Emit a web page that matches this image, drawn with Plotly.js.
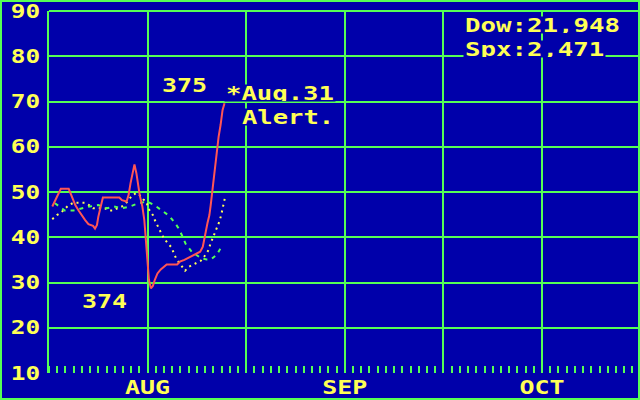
<!DOCTYPE html>
<html>
<head>
<meta charset="utf-8">
<script src="https://cdn.plot.ly/plotly-3.0.1.min.js"></script>
<style>
  html, body { margin: 0; padding: 0; background: #0000aa; }
  #wrap { position: relative; width: 640px; height: 400px; background: #0000aa; overflow: hidden; }
  #chart { position: absolute; left: 0; top: 0; width: 640px; height: 400px; }
  #frame { position: absolute; left: 0; top: 0; width: 640px; height: 400px; box-sizing: border-box; border: 2px solid #55ff55; pointer-events: none; }
</style>
</head>
<body>
<div id="wrap"><div id="chart"></div><div id="frame"></div></div>
<script>
// ---- data (x = trading-day position, 15 units per grid column) ----
const redX = [0.5,1.2,1.8,3.0,3.3,3.6,4.0,4.5,5.0,5.5,6.0,6.7,7.0,7.3,7.5,7.8,8.2,10.7,11.1,11.8,12.1,12.4,12.7,13.0,13.3,13.5,13.8,14.2,14.5,14.7,14.9,15.2,15.5,15.8,16.1,16.5,17.0,17.5,17.9,19.5,19.9,20.6,21.5,22.2,23.0,23.4,23.6,23.9,24.1,24.4,24.6,24.8,25.0,25.3,25.5,25.8,26.1,26.4,26.7];
const redY = [46.8,49.0,50.7,50.7,49.7,48.4,47.1,45.9,44.7,43.8,42.9,42.5,41.9,42.7,44.5,46.4,48.8,48.8,48.2,47.9,49.3,51.9,54.1,56.1,54.1,51.9,49.3,46.8,43.8,40.1,35.3,30.6,28.7,29.2,30.6,32.0,32.9,33.5,34.0,34.0,34.6,35.0,35.7,36.1,36.8,37.9,39.8,41.6,43.1,44.9,47.1,49.7,52.3,54.9,58.2,62.2,64.8,68.1,69.6];

const yelX = [0.5,1.2,1.8,2.4,3.0,3.7,4.3,5.0,5.5,6.1,6.7,7.3,8.0,8.5,9.1,9.8,10.4,11.1,11.7,12.2,12.7,13.3,13.8,14.3,14.8,15.1,15.8,16.1,16.5,16.9,17.2,17.6,18.1,18.6,18.9,19.4,20.0,20.4,20.7,21.3,22.0,22.6,23.1,23.6,24.2,24.6,24.9,25.2,25.5,25.9,26.2,26.4,26.7,26.8];
const yelY = [44.0,44.9,45.4,46.2,47.1,47.6,47.6,47.6,47.6,47.1,46.4,46.4,46.4,46.4,45.9,45.9,46.4,46.8,47.5,48.4,49.3,49.8,49.3,48.4,47.9,46.4,44.9,43.8,42.5,41.5,40.5,39.5,38.7,37.8,36.8,35.1,34.0,33.1,32.6,33.5,34.0,34.4,34.8,35.7,37.0,38.7,39.8,40.7,41.8,43.4,44.9,46.4,48.0,49.0];

const grnX = [0.9,2.4,3.7,5.0,6.2,7.5,8.8,9.9,11.1,12.3,13.6,14.9,16.0,17.1,18.3,19.2,19.7,20.2,20.8,21.7,22.5,23.2,24.0,24.6,25.5,26.2,26.4];
const grnY = [47.5,45.9,45.9,46.4,46.8,47.1,46.4,46.8,46.4,46.8,47.5,47.9,47.1,46.0,44.7,43.1,42.0,40.5,38.5,36.8,36.1,35.3,35.1,35.1,36.1,37.9,38.3];

const yTicks = [10,20,30,40,50,60,70,80,90];
const xGrid = [15,30,45,60,75];
const xLabels = ['AUG','','SEP','','OCT'];

const BLUE = '#0000aa', GREEN = '#55ff55', YELLOW = '#ffff55', RED = '#ff5555';
const FONT = {family: '"DejaVu Sans Mono", monospace', size: 19, color: YELLOW, weight: 'bold'};
const PITCH = 15.7; // character cell width of the bitmap-style text

const traces = [
  {x: yelX, y: yelY, mode: 'lines', line: {color: YELLOW, width: 2, dash: '2px,4px'}, hoverinfo: 'skip'},
  {x: grnX, y: grnY, mode: 'lines', line: {color: GREEN, width: 2, dash: '4px,5px'}, hoverinfo: 'skip'},
  {x: redX, y: redY, mode: 'lines', line: {color: RED, width: 2}, hoverinfo: 'skip'}
];

function note(text, x, y) {
  return {text: text, x: x, y: y, xref: 'x', yref: 'y', xanchor: 'left', yanchor: 'middle',
          width: text.length * PITCH, height: 16, borderpad: 0,
          showarrow: false, bgcolor: BLUE, font: FONT};
}

const layout = {
  width: 640, height: 400,
  paper_bgcolor: BLUE, plot_bgcolor: BLUE,
  margin: {l: 49, r: 2, t: 11, b: 27},
  showlegend: false,
  font: FONT,
  xaxis: {
    range: [0, 89.6], tickmode: 'array', tickvals: xGrid, ticktext: xLabels,
    showgrid: true, gridcolor: GREEN, gridwidth: 2, zeroline: false, showline: false,
    ticks: '', tickfont: FONT, ticklabelstandoff: 1, ticklabeloverflow: 'allow',
    minor: {dtick: 1.25, tick0: 0, ticks: 'inside', ticklen: 7, tickwidth: 2, tickcolor: GREEN, showgrid: false}
  },
  yaxis: {
    range: [10, 90], tickmode: 'array', tickvals: yTicks,
    showgrid: true, gridcolor: GREEN, gridwidth: 2, zeroline: false,
    showline: true, linecolor: GREEN, linewidth: 2,
    ticks: '', tickfont: FONT, ticklabelstandoff: 3, ticklabeloverflow: 'allow'
  },
  shapes: [
    {type: 'line', xref: 'paper', yref: 'paper', x0: 0, x1: 1, y0: 1, y1: 1, line: {color: GREEN, width: 2}, layer: 'below'}
  ],
  annotations: [
    note('Dow:21,948', 63.0, 86.9),
    note('Spx:2,471', 63.0, 81.6),
    note('375', 16.9, 73.6),
    note('*Aug.31', 26.6, 71.9),
    note('Alert.', 29.1, 66.6),
    note('374', 4.7, 25.9)
  ]
};

Plotly.newPlot('chart', traces, layout, {staticPlot: true, displayModeBar: false}).then(function (gd) {
  // widen the glyphs to the wide character cells of the original text
  gd.querySelectorAll('.annotation-text, .xtick text, .ytick text').forEach(function (t) {
    const n = t.textContent.length;
    if (!n) return;
    t.setAttribute('textLength', (n * PITCH - 2).toFixed(1));
    t.setAttribute('lengthAdjust', 'spacingAndGlyphs');
  });
});
</script>
</body>
</html>
